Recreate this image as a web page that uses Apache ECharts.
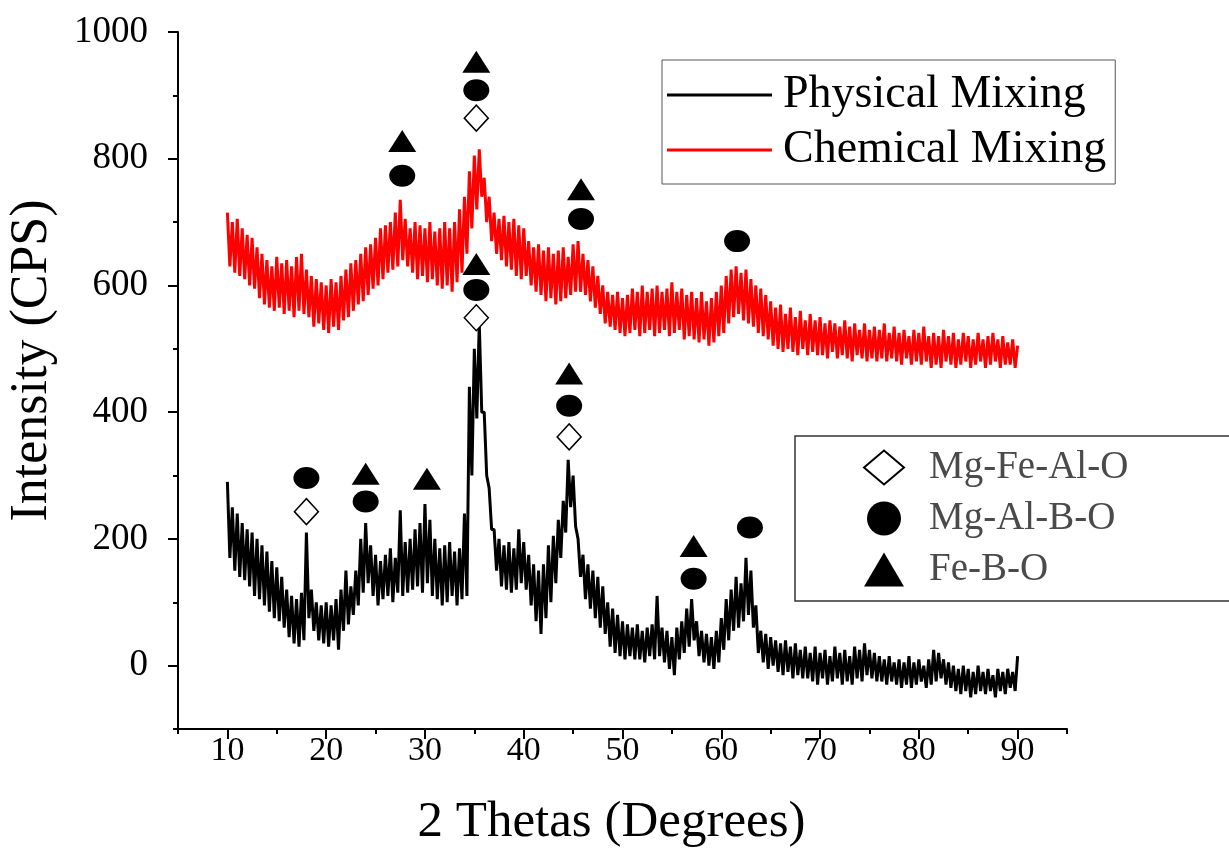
<!DOCTYPE html>
<html>
<head>
<meta charset="utf-8">
<title>XRD patterns</title>
<script src="https://cdn.jsdelivr.net/npm/echarts@6/dist/echarts.min.js"></script>
<style>
  html, body { margin: 0; padding: 0; background: #fff; }
  #main { width: 1229px; height: 859px; }
</style>
</head>
<body>
<div id="main"></div>
<script>
// sampling grid of the scans: 10..90 deg, one hi/lo pair of readings every 0.5 deg
const angleStart = 10;
const angleStep = 0.5;

// Physical Mixing (black) – upper / lower edge of the noisy trace
const physHi = [
  290, 250, 240, 225, 215, 210, 200, 190, 180, 165,
  155, 140, 120, 110, 105, 115, 210, 120, 100, 95,
  100, 95, 105, 120, 150, 125, 150, 200, 225, 190,
  175, 165, 175, 185, 170, 245, 195, 200, 215, 225,
  255, 230, 200, 185, 190, 195, 180, 185, 240, 440,
  500, 540, 400, 280, 215, 200, 190, 195, 185, 215,
  195, 175, 160, 150, 160, 190, 205, 230, 260, 325,
  300, 200, 175, 160, 150, 140, 125, 100, 90, 80,
  70, 65, 60, 65, 55, 60, 65, 110, 60, 55,
  45, 60, 70, 90, 105, 70, 55, 50, 45, 55,
  75, 105, 120, 140, 130, 170, 150, 95, 55, 50,
  45, 40, 35, 40, 30, 35, 25, 30, 20, 30,
  20, 25, 15, 30, 20, 25, 15, 30, 25, 35,
  25, 20, 15, 10, 15, 5, 10, 5, 15, 5,
  10, 0, 10, 25, 20, 10, 5, 0, -5, 0,
  -5, -10, 0, -10, -5, -15, -5, -10, -5, -10,
  15
];
const physLo = [
  170, 150, 140, 135, 125, 110, 105, 95, 85, 75,
  70, 60, 45, 35, 30, 40, 75, 55, 40, 35,
  30, 40, 25, 55, 65, 80, 95, 115, 130, 110,
  95, 105, 110, 100, 115, 110, 115, 120, 125, 115,
  130, 110, 105, 95, 100, 110, 95, 105, 110, 300,
  390, 400, 300, 215, 150, 125, 120, 115, 120, 130,
  120, 95, 70, 50, 75, 100, 130, 170, 210, 250,
  220, 140, 105, 90, 75, 60, 50, 30, 20, 15,
  10, 15, 10, 10, 5, 15, 10, 15, 5, -5,
  -15, 10, 20, 30, 40, 15, 5, 0, -5, 5,
  25, 40, 55, 60, 70, 80, 60, 20, 5, -5,
  0, -10, -15, -10, -20, -15, -20, -20, -25, -30,
  -20, -30, -25, -20, -30, -25, -30, -20, -25, -15,
  -20, -25, -25, -30, -25, -30, -35, -30, -35, -30,
  -25, -35, -30, -25, -20, -30, -35, -40, -45, -40,
  -50, -45, -40, -45, -40, -50, -40, -45, -35, -40,
  -25
];

// Chemical Mixing (red)
const chemHi = [
  715, 700, 705, 690, 680, 675, 660, 650, 640, 630,
  645, 635, 640, 630, 645, 650, 625, 615, 610, 605,
  600, 610, 605, 615, 625, 635, 640, 650, 660, 665,
  675, 690, 695, 700, 715, 735, 705, 690, 700, 695,
  690, 700, 685, 690, 700, 690, 700, 720, 740, 780,
  805, 815, 770, 740, 715, 705, 710, 700, 705, 695,
  690, 670, 660, 665, 655, 660, 650, 655, 660, 645,
  665, 670, 650, 640, 630, 615, 600, 590, 585, 590,
  580, 585, 595, 590, 600, 590, 595, 600, 590, 595,
  605, 590, 595, 585, 590, 580, 590, 575, 580, 590,
  600, 615, 625, 630, 620, 625, 610, 600, 595, 585,
  575, 565, 570, 555, 565, 550, 560, 545, 555, 545,
  550, 540, 545, 540, 535, 545, 535, 540, 530, 540,
  530, 535, 530, 540, 525, 535, 525, 530, 520, 530,
  525, 535, 520, 525, 520, 530, 520, 525, 515, 525,
  520, 515, 525, 515, 520, 525, 515, 520, 510, 515,
  505
];
const chemLo = [
  630, 620, 615, 610, 600, 595, 580, 570, 565, 560,
  565, 555, 560, 550, 560, 555, 550, 535, 540, 530,
  525, 535, 530, 545, 550, 560, 570, 575, 585, 595,
  600, 610, 620, 625, 630, 640, 630, 620, 610, 615,
  605, 610, 600, 595, 600, 590, 605, 620, 650, 690,
  720, 740, 700, 670, 650, 640, 630, 625, 615, 610,
  615, 600, 590, 585, 575, 580, 570, 575, 580, 585,
  590, 590, 585, 575, 565, 555, 540, 535, 530, 525,
  520, 525, 530, 520, 525, 530, 520, 525, 530, 520,
  525, 530, 515, 520, 515, 510, 515, 505, 510, 520,
  525, 540, 550, 555, 545, 540, 535, 525, 520, 515,
  505, 500, 495, 500, 495, 490, 500, 490, 495, 490,
  490, 485, 495, 485, 490, 485, 480, 490, 485, 480,
  485, 480, 485, 480, 485, 480, 475, 485, 475, 480,
  475, 480, 470, 475, 470, 480, 475, 470, 475, 480,
  470, 475, 480, 470, 475, 480, 470, 475, 475, 470,
  480
];

// phase markers [2theta, height]
const mgFeAlO = [[35.2, 864], [18.0, 243], [35.2, 549], [44.6, 361]];
const mgAlBO = [[35.2, 908], [27.7, 773], [45.8, 705], [61.6, 670], [18.0, 296],
  [24.0, 259], [35.2, 593], [44.6, 410], [57.2, 137], [62.9, 218]];
const feBO = [[35.2, 953], [27.7, 828], [45.8, 752], [24.0, 303], [30.2, 295],
  [35.2, 634], [44.6, 461], [57.2, 189]];

// axis ticks
const xMajor = [10, 20, 30, 40, 50, 60, 70, 80, 90];
const xMinor = [5, 15, 25, 35, 45, 55, 65, 75, 85, 95];
const yMajor = [0, 200, 400, 600, 800, 1000];
const yMinor = [-100, 100, 300, 500, 700, 900];

function trace(hi, lo) {
  const out = [];
  for (let i = 0; i < hi.length; i++) {
    const a = angleStart + i * angleStep;
    out.push([a, hi[i]]);
    if (i < hi.length - 1) out.push([a + angleStep / 2, lo[i]]);
  }
  return out;
}

const font = "Liberation Serif";
const chart = echarts.init(document.getElementById("main"));

const option = {
  animation: false,
  backgroundColor: "#fff",
  grid: { left: 178, right: 162, top: 32, bottom: 130, containLabel: false, outerBoundsMode: "none" },
  legend: [
    {
      data: [
        { name: "Physical Mixing", icon: "rect" },
        { name: "Chemical Mixing", icon: "rect" }
      ],
      orient: "vertical",
      left: 662,
      top: 60,
      padding: [12, 9, 11, 5],
      itemWidth: 105,
      itemHeight: 3,
      itemGap: 9,
      borderColor: "#555",
      borderWidth: 1,
      selectedMode: false,
      textStyle: { fontFamily: font, fontSize: 46, color: "#000", padding: [0, 0, 0, 6] }
    },
    {
      data: ["Mg-Fe-Al-O", "Mg-Al-B-O", "Fe-B-O"],
      orient: "vertical",
      left: 795,
      top: 436,
      padding: [12, 200, 12, 68],
      itemWidth: 40,
      itemHeight: 34,
      itemGap: 12,
      borderColor: "#333",
      borderWidth: 1.5,
      selectedMode: false,
      textStyle: { fontFamily: font, fontSize: 39, color: "#4a4a4a", padding: [0, 0, 0, 20] }
    }
  ],
  xAxis: [
    {
      type: "value",
      min: 5,
      max: 95,
      name: "2 Thetas (Degrees)",
      nameLocation: "middle",
      nameGap: 68,
      nameTextStyle: { fontFamily: font, fontSize: 51, color: "#000", padding: [0, 22, 0, 0] },
      axisLine: { onZero: false, lineStyle: { color: "#000", width: 2 } },
      axisTick: { customValues: xMajor, length: 10, lineStyle: { color: "#000", width: 2 } },
      axisLabel: { customValues: xMajor, fontFamily: font, fontSize: 34, color: "#000", margin: 5 },
      splitLine: { show: false }
    },
    {
      type: "value",
      min: 5,
      max: 95,
      position: "bottom",
      axisLine: { show: false, onZero: false },
      axisTick: { customValues: xMinor, length: 5, lineStyle: { color: "#000", width: 2 } },
      axisLabel: { show: false },
      splitLine: { show: false }
    }
  ],
  yAxis: [
    {
      type: "value",
      min: -100,
      max: 1000,
      name: "Intensity (CPS)",
      nameLocation: "middle",
      nameGap: 120,
      nameTextStyle: { fontFamily: font, fontSize: 52, color: "#000", padding: [0, 0, 0, 40] },
      axisLine: { show: true, onZero: false, lineStyle: { color: "#000", width: 2 } },
      axisTick: { show: true, customValues: yMajor, length: 10, lineStyle: { color: "#000", width: 2 } },
      axisLabel: {
        customValues: yMajor, fontFamily: font, fontSize: 37, color: "#000", margin: 30,
        formatter: (v) => String(v)
      },
      splitLine: { show: false }
    },
    {
      type: "value",
      min: -100,
      max: 1000,
      position: "left",
      axisLine: { show: false, onZero: false },
      axisTick: { show: true, customValues: yMinor, length: 5, lineStyle: { color: "#000", width: 2 } },
      axisLabel: { show: false },
      splitLine: { show: false }
    }
  ],
  series: [
    {
      name: "Physical Mixing",
      type: "line",
      data: trace(physHi, physLo),
      symbol: "none",
      color: "#000",
      lineStyle: { color: "#000", width: 3 }
    },
    {
      name: "Chemical Mixing",
      type: "line",
      data: trace(chemHi, chemLo),
      symbol: "none",
      color: "#ff0000",
      lineStyle: { color: "#ff0000", width: 3 }
    },
    {
      name: "Mg-Fe-Al-O",
      type: "scatter",
      data: mgFeAlO,
      symbol: "diamond",
      symbolSize: [24, 26],
      z: 5,
      itemStyle: { color: "#fff", borderColor: "#000", borderWidth: 1.5, opacity: 1 }
    },
    {
      name: "Mg-Al-B-O",
      type: "scatter",
      data: mgAlBO,
      symbol: "circle",
      symbolSize: [26, 22],
      z: 5,
      itemStyle: { color: "#000", opacity: 1 }
    },
    {
      name: "Fe-B-O",
      type: "scatter",
      data: feBO,
      symbol: "triangle",
      symbolSize: [28, 22],
      z: 5,
      itemStyle: { color: "#000", opacity: 1 }
    }
  ]
};

chart.setOption(option);
</script>
</body>
</html>
